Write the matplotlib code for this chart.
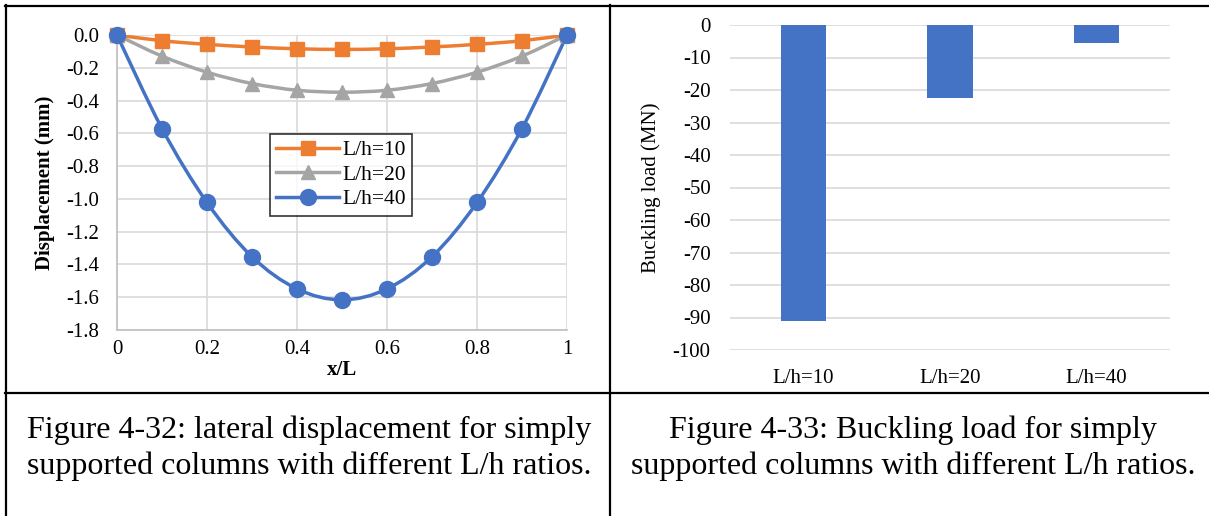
import numpy as np
import matplotlib
matplotlib.use("Agg")
import matplotlib.pyplot as plt
from matplotlib.path import Path
from matplotlib.patches import PathPatch
from matplotlib.lines import Line2D

plt.rcParams["font.family"] = ["Liberation Serif", "DejaVu Serif"]
plt.rcParams["axes.unicode_minus"] = False

# Lateral displacement along the column (mm)
x_over_L = [0, 0.1, 0.2, 0.3, 0.4, 0.5, 0.6, 0.7, 0.8, 0.9, 1.0]
disp_lh10 = [0, -0.035, -0.057, -0.073, -0.084, -0.088, -0.084, -0.073, -0.057, -0.035, 0]
disp_lh20 = [0, -0.129, -0.227, -0.296, -0.337, -0.349, -0.337, -0.296, -0.227, -0.129, 0]
disp_lh40 = [0, -0.571, -1.022, -1.353, -1.549, -1.616, -1.549, -1.353, -1.022, -0.571, 0]
series_labels = ["L/h=10", "L/h=20", "L/h=40"]

# Buckling load (MN)
bar_categories = ["L/h=10", "L/h=20", "L/h=40"]
buckling_load = [-91.0, -22.5, -5.6]

x_ticks = [0, 0.2, 0.4, 0.6, 0.8, 1]
x_tick_labels = ["0", "0.2", "0.4", "0.6", "0.8", "1"]

captions = [
    "Figure 4-32: lateral displacement for simply\nsupported columns with different L/h ratios.",
    "Figure 4-33: Buckling load for simply\nsupported columns with different L/h ratios.",
]

ORANGE = "#ED7D31"
GRAY = "#A5A5A5"
BLUE = "#4472C4"
GRID = "#D9D9D9"

TICK_FS = 15
W, H = 1209, 516
fig = plt.figure(figsize=(W / 100, H / 100), dpi=100)


def fx(px):
    return px / W


def fy(py):
    return 1 - py / H


def smooth_path(xs, ys):
    """Bezier path through the points (Catmull-Rom style smoothing)."""
    p = np.column_stack([xs, ys]).astype(float)
    n = len(p)
    verts = [p[0]]
    codes = [Path.MOVETO]
    for i in range(n - 1):
        p0 = p[i - 1] if i > 0 else p[i]
        p1 = p[i]
        p2 = p[i + 1]
        p3 = p[i + 2] if i + 2 < n else p[i + 1]
        c1 = p1 + (p2 - p0) / 6.0
        c2 = p2 - (p3 - p1) / 6.0
        verts += [c1, c2, p2]
        codes += [Path.CURVE4] * 3
    return Path(verts, codes)


# ---------------- left chart: displacement ----------------
ax1 = fig.add_axes([fx(117), fy(330), fx(567 - 117), fy(35) - fy(330)])
series = [
    (disp_lh10, ORANGE, "s", 10),
    (disp_lh20, GRAY, "^", 10),
    (disp_lh40, BLUE, "o", 11.5),
]
handles = []
for (ys, col, mk, ms), lab in zip(series, series_labels):
    ax1.add_patch(PathPatch(smooth_path(x_over_L, ys), facecolor="none",
                            edgecolor=col, lw=2.5, zorder=3,
                            capstyle="round", joinstyle="round"))
    ax1.plot(x_over_L, ys, ls="none", marker=mk, ms=ms, color=col,
             markeredgecolor=col, zorder=4, clip_on=False)
    handles.append(Line2D([], [], color=col, lw=2.5, marker=mk, ms=ms,
                          markeredgecolor=col))

ax1.set_xlim(0, 1)
ax1.set_ylim(-1.8, 0)
ax1.set_xticks(x_ticks)
ax1.set_xticklabels(x_tick_labels)
y_ticks = np.round(np.arange(-1.8, 0.001, 0.2), 1)
ax1.set_yticks(y_ticks)
ax1.set_yticklabels(["0.0" if v == 0 else f"{v:.1f}" for v in y_ticks])
ax1.grid(True, color=GRID, lw=1.2)
ax1.set_axisbelow(True)
for s in ["top", "right"]:
    ax1.spines[s].set_visible(False)
for s in ["left", "bottom"]:
    ax1.spines[s].set_color("#BFBFBF")
    ax1.spines[s].set_linewidth(1.2)
ax1.tick_params(axis="both", length=0, labelsize=TICK_FS)
ax1.tick_params(axis="y", pad=13)
ax1.tick_params(axis="x", pad=7)
ax1.set_xlabel("x/L", fontsize=TICK_FS, fontweight="bold", labelpad=1)
ax1.set_ylabel("Displacement (mm)", fontsize=TICK_FS, fontweight="bold", labelpad=8)

leg = ax1.legend(handles, series_labels, loc="upper left",
                 bbox_to_anchor=(0.34, 0.665), fontsize=15.5,
                 frameon=True, fancybox=False, edgecolor="black",
                 handlelength=2.9, handletextpad=0.15, borderpad=0.3,
                 labelspacing=0.2, borderaxespad=0)
leg.get_frame().set_linewidth(1.2)
leg.set_zorder(5)

# ---------------- right chart: buckling load ----------------
ax2 = fig.add_axes([fx(730), fy(350), fx(1170 - 730), fy(25) - fy(350)])
pos = np.arange(len(bar_categories))
ax2.bar(pos, buckling_load, width=0.31, color=BLUE, zorder=3)
ax2.set_xlim(-0.5, len(bar_categories) - 0.5)
ax2.set_ylim(-100, 0)
ax2.set_yticks(np.arange(-100, 1, 10))
ax2.set_xticks(pos)
ax2.set_xticklabels(bar_categories)
ax2.yaxis.grid(True, color=GRID, lw=1.2)
ax2.set_axisbelow(True)
for s in ax2.spines.values():
    s.set_visible(False)
ax2.tick_params(axis="both", length=0, labelsize=TICK_FS)
ax2.tick_params(axis="y", pad=14)
ax2.tick_params(axis="x", pad=14)
ax2.set_ylabel("Buckling load (MN)", fontsize=TICK_FS, labelpad=8)

# ---------------- table frame and captions ----------------
frame = dict(color="black", lw=1.6, transform=fig.transFigure, clip_on=False)
fig.add_artist(Line2D([fx(5), fx(1208)], [fy(5.5), fy(5.5)], **frame))
fig.add_artist(Line2D([fx(5), fx(1208)], [fy(393), fy(393)], **frame))
fig.add_artist(Line2D([fx(6), fx(6)], [fy(5), fy(516)], **frame))
fig.add_artist(Line2D([fx(610), fx(610)], [fy(5), fy(516)], **frame))

fig.text(fx(309), fy(448), captions[0], ha="center", va="center",
         fontsize=23, linespacing=1.3)
fig.text(fx(913), fy(448), captions[1], ha="center", va="center",
         fontsize=23, linespacing=1.3)

fig.savefig("out.png", dpi=100)
